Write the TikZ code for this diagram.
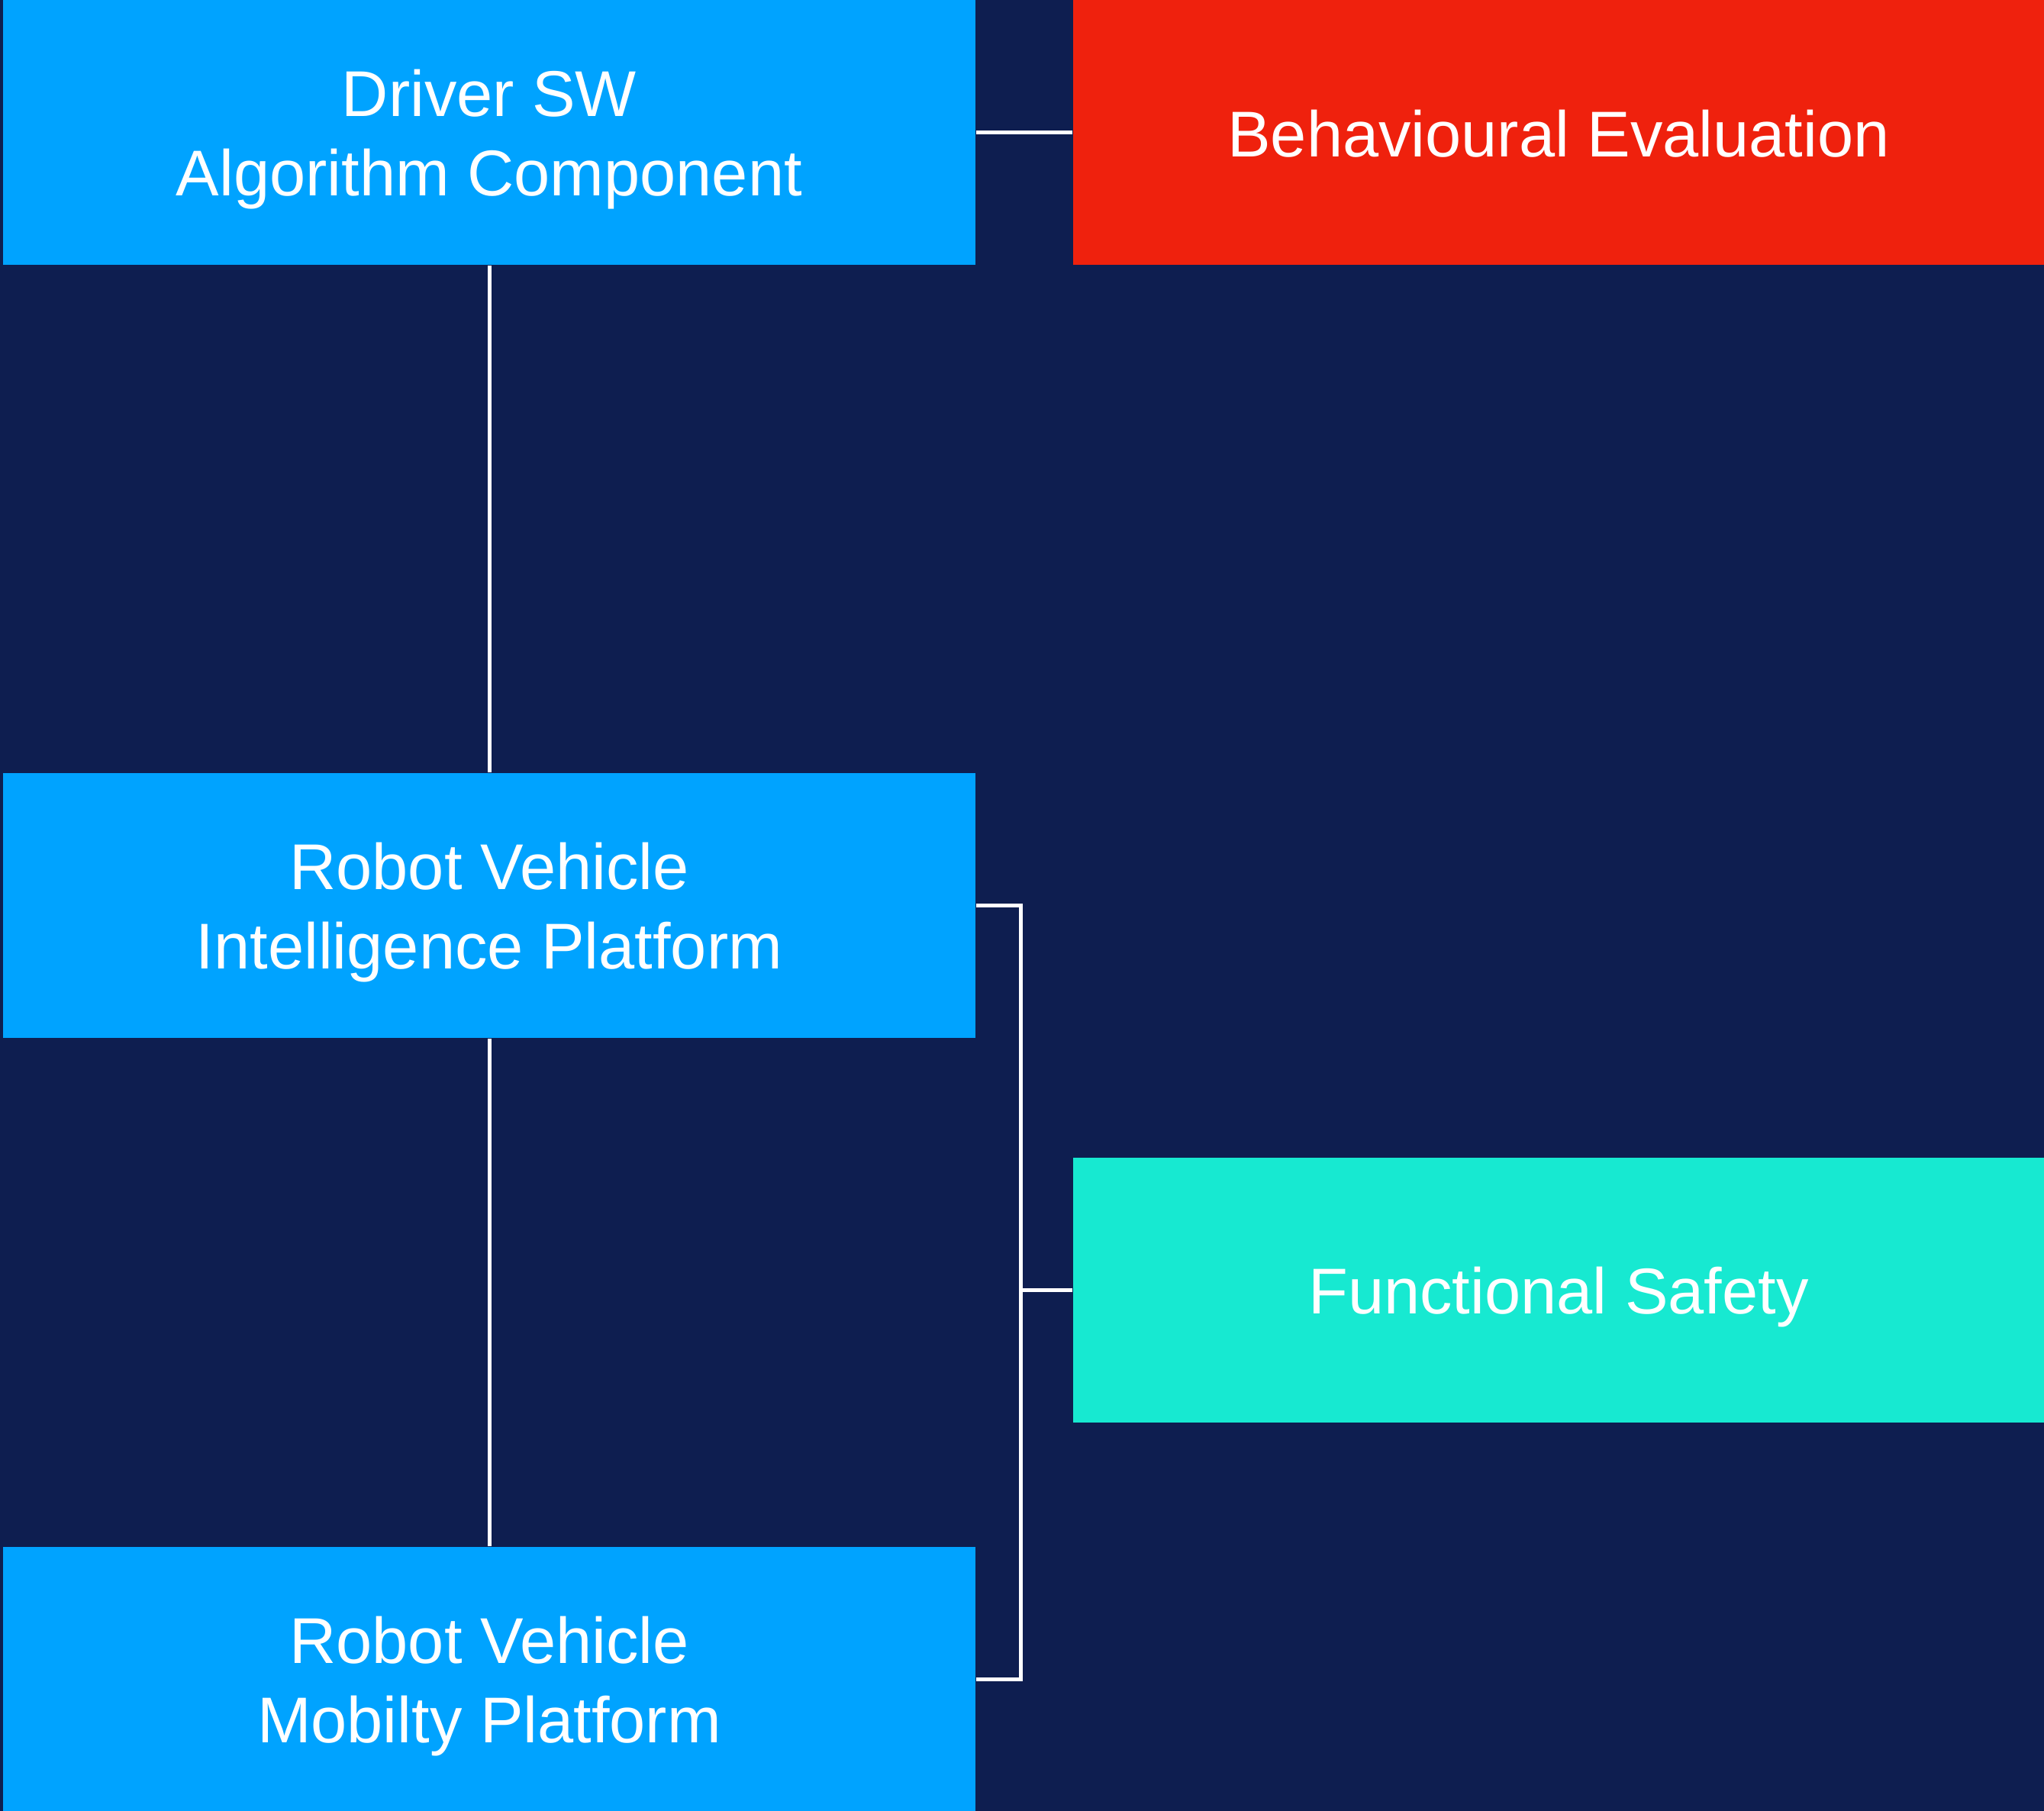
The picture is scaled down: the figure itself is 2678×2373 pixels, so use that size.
\documentclass[tikz,border=0pt]{standalone}
\usepackage{fontspec}
\setmainfont{Liberation Sans}
\definecolor{bgc}{HTML}{0E1E50}
\definecolor{bluec}{HTML}{00A3FF}
\definecolor{redc}{HTML}{EF210D}
\definecolor{tealc}{HTML}{17E9D1}
\newcommand\topstrut{\rule{0pt}{20pt}}
\newcommand\botstrut{\rule[-3.8pt]{0pt}{3.8pt}}
\begin{document}
\begin{tikzpicture}[x=0.25pt,y=-0.25pt,
  box/.style={rectangle,inner sep=0pt,minimum width=318.5pt,minimum height=86.75pt,
    text=white,align=center,font=\fontsize{21.2pt}{26pt}\selectfont},
  link/.style={draw=white,line width=1.25pt}]
\fill[bgc] (0,0) rectangle (2678,2373);
\useasboundingbox (0,0) rectangle (2678,2373);
\node[box,fill=bluec] (b1) at (641,173.5) {\topstrut Driver SW\\Algorithm Component\botstrut};
\node[box,fill=bluec] (b2) at (641,1186.5) {\topstrut Robot Vehicle\\Intelligence Platform\botstrut};
\node[box,fill=bluec] (b3) at (641,2200) {\topstrut Robot Vehicle\\Mobilty Platform\botstrut};
\node[box,fill=redc,minimum width=318pt] (be) at (2042,173.5) {\topstrut Behavioural Evaluation\botstrut};
\node[box,fill=tealc,minimum width=318pt] (fs) at (2042,1690) {\topstrut Functional Safety\botstrut};
\coordinate (j) at (1337,1690);
\draw[link] (b1) -- (b2);
\draw[link] (b2) -- (b3);
\draw[link] (b1.east) -- (be.west);
\draw[link] (b2.east) -- (b2.east -| j) -- (b3.east -| j) -- (b3.east);
\draw[link] (j |- fs.west) -- (fs.west);
\end{tikzpicture}
\end{document}
